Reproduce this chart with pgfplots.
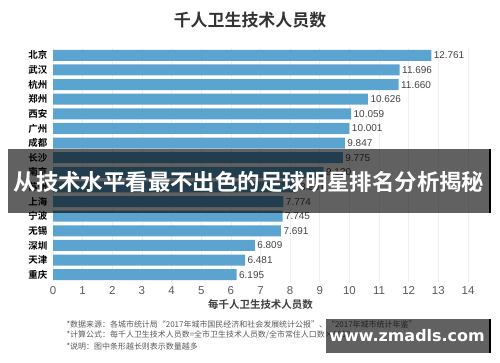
\documentclass[border=0pt]{standalone}
\usepackage{pgfplots}
\pgfplotsset{compat=1.18}
\usepackage{pgfplotstable}
\usepackage{fontspec}
\setmainfont{Liberation Sans}
\newfontfamily\cjk{Noto Sans CJK SC}[BoldFont={Noto Sans CJK SC Bold}]
\newfontfamily\wm{DejaVu Sans}
\definecolor{barblue}{HTML}{5AA4CF}
\definecolor{txt}{HTML}{444444}
\pgfplotstableread{
idx val
0 12.761
1 11.696
2 11.660
3 10.626
4 10.059
5 10.001
6 9.847
7 9.775
8 9.130
9 8.251
10 7.774
11 7.745
12 7.691
13 6.809
14 6.481
15 6.195
}\datatable
\begin{document}
\begin{tikzpicture}[x=1bp,y=1bp]
\path[use as bounding box] (0,0) rectangle (500,-362);
\node[font=\cjk\bfseries\fontsize{17}{20}\selectfont, text=black!80] at (250,-20) {千人卫生技术人员数};
\begin{axis}[
  at={(53bp,-282bp)}, anchor=south west,
  scale only axis, width=415bp, height=234bp,
  xbar, bar width=11bp,
  xmin=0, xmax=14, ymin=-0.5, ymax=15.5,
  y dir=reverse,
  axis line style={draw=none},
  tick style={draw=none},
  xtick={0,...,14},
  ytick={0,...,15},
  yticklabels={北京,武汉,杭州,郑州,西安,广州,成都,长沙,南京,苏州,上海,宁波,无锡,深圳,天津,重庆},
  yticklabel style={font=\cjk\bfseries\fontsize{9.5}{10}\selectfont, text=black, xshift=2bp},
  xticklabel style={font=\fontsize{11.5}{12}\selectfont, text=black!65, yshift=-1bp},
  /pgf/number format/assume math mode=true,
  xmajorgrids, grid style={color=black!6, line width=0.6pt},
  xlabel={每千人卫生技术人员数},
  xlabel style={font=\cjk\bfseries\fontsize{10.5}{11}\selectfont, text=black!75, yshift=2bp},
  nodes near coords,
  nodes near coords style={font=\fontsize{10}{11}\selectfont, text=txt, anchor=west, xshift=-1bp},
  point meta=explicit symbolic,
]
\addplot[fill=barblue, draw=none] table[x=val, y=idx, meta=val] {\datatable};
\end{axis}
\begin{scope}[font=\cjk\fontsize{8}{9}\selectfont, text=black!65]
\node[anchor=west] at (63,-324) {*数据来源：各城市统计局“2017年城市国民经济和社会发展统计公报”、“2017年城市统计年鉴”};
\node[anchor=west] at (63,-335) {*计算公式：每千人卫生技术人员数=全市卫生技术人员数/全市常住人口数×1000};
\node[anchor=west] at (63,-346) {*说明：图中条形越长则表示数量越多};
\end{scope}
\fill[black, fill opacity=0.62] (8,-149) rectangle (490,-213);
\fill[black] (489,-149) rectangle (491,-213);
\node[font=\cjk\bfseries\fontsize{22.5}{24}\selectfont, text=white] at (249,-182) {从技术水平看最不出色的足球明星排名分析揭秘};
\fill[black, fill opacity=0.62] (326,-319) rectangle (490,-353);
\fill[black] (489,-319) rectangle (491,-353);
\node[font=\wm\bfseries\fontsize{16}{18}\selectfont, text=white] at (407,-336) {www.zmadls.com};
\end{tikzpicture}
\end{document}
